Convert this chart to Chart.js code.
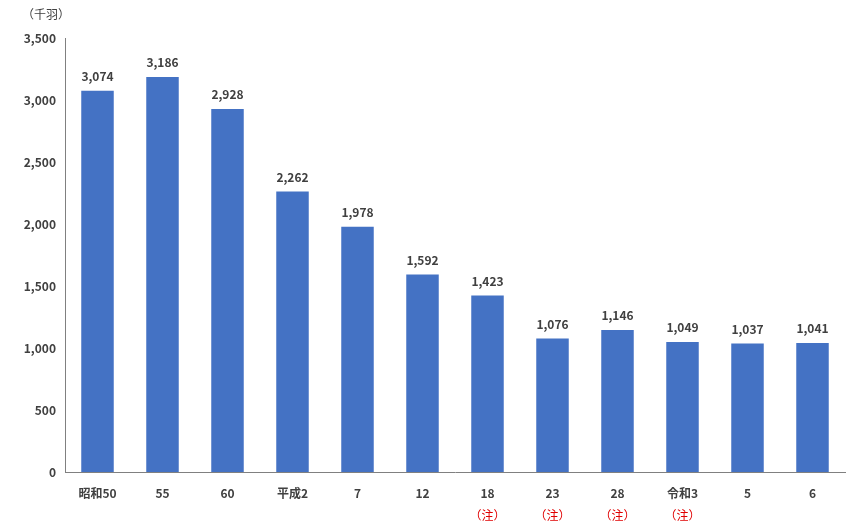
<!DOCTYPE html>
<html><head><meta charset="utf-8">
<script src="https://cdn.jsdelivr.net/npm/chart.js@4/dist/chart.umd.min.js"></script>
<style>body{margin:0;background:#fff}</style></head>
<body><canvas id="c" width="858" height="530"></canvas>
<script>
const categories=["昭和50","55","60","平成2","7","12","18","23","28","令和3","5","6"];
const values=[3074,3186,2928,2262,1978,1592,1423,1076,1146,1049,1037,1041];
const noteFlags=[false,false,false,false,false,false,true,true,true,true,false,false];
const yTicks=[0,500,1000,1500,2000,2500,3000,3500];
const FONT='"Noto Sans CJK JP","Noto Sans",sans-serif';
const extra={id:'extra',afterDraw(ch){
  const c=ch.ctx,x=ch.scales.x,y=ch.scales.y;
  c.save();
  c.font='bold 12px '+FONT;c.fillStyle='#404040';c.textAlign='center';c.textBaseline='bottom';
  values.forEach((v,i)=>c.fillText(v.toLocaleString('en-US'),x.getPixelForValue(i),y.getPixelForValue(v)-8));
  c.font='12px '+FONT;c.fillStyle='#e00000';c.textBaseline='middle';
  noteFlags.forEach((f,i)=>{if(f)c.fillText('（注）',x.getPixelForValue(i),515);});
  c.fillStyle='#404040';c.textAlign='left';c.font='12px '+FONT;
  c.fillText('（千羽）',22,14);
  c.restore();}};
new Chart(document.getElementById('c'),{type:'bar',
 data:{labels:categories,datasets:[{data:values,backgroundColor:'#4472c4',categoryPercentage:1,barPercentage:0.5}]},
 options:{responsive:false,animation:false,layout:{padding:{top:38,left:8,right:13,bottom:0}},
  plugins:{legend:{display:false},tooltip:{enabled:false}},
  scales:{
   x:{grid:{display:false,drawTicks:false},border:{color:'#808080'},
      ticks:{color:'#404040',font:{family:FONT,size:12,weight:'bold'},padding:14,maxRotation:0},
      afterFit(s){s.height=58;}},
   y:{min:0,max:3500,grid:{display:false,drawTicks:true,tickLength:5},border:{color:'#808080'},
      afterBuildTicks(s){s.ticks=yTicks.map(v=>({value:v}));},
      ticks:{color:'#404040',font:{family:FONT,size:12,weight:'bold'},padding:4,callback:v=>v.toLocaleString('en-US')},
      afterFit(s){s.width=57;}}}},
 plugins:[extra]});
</script></body></html>
